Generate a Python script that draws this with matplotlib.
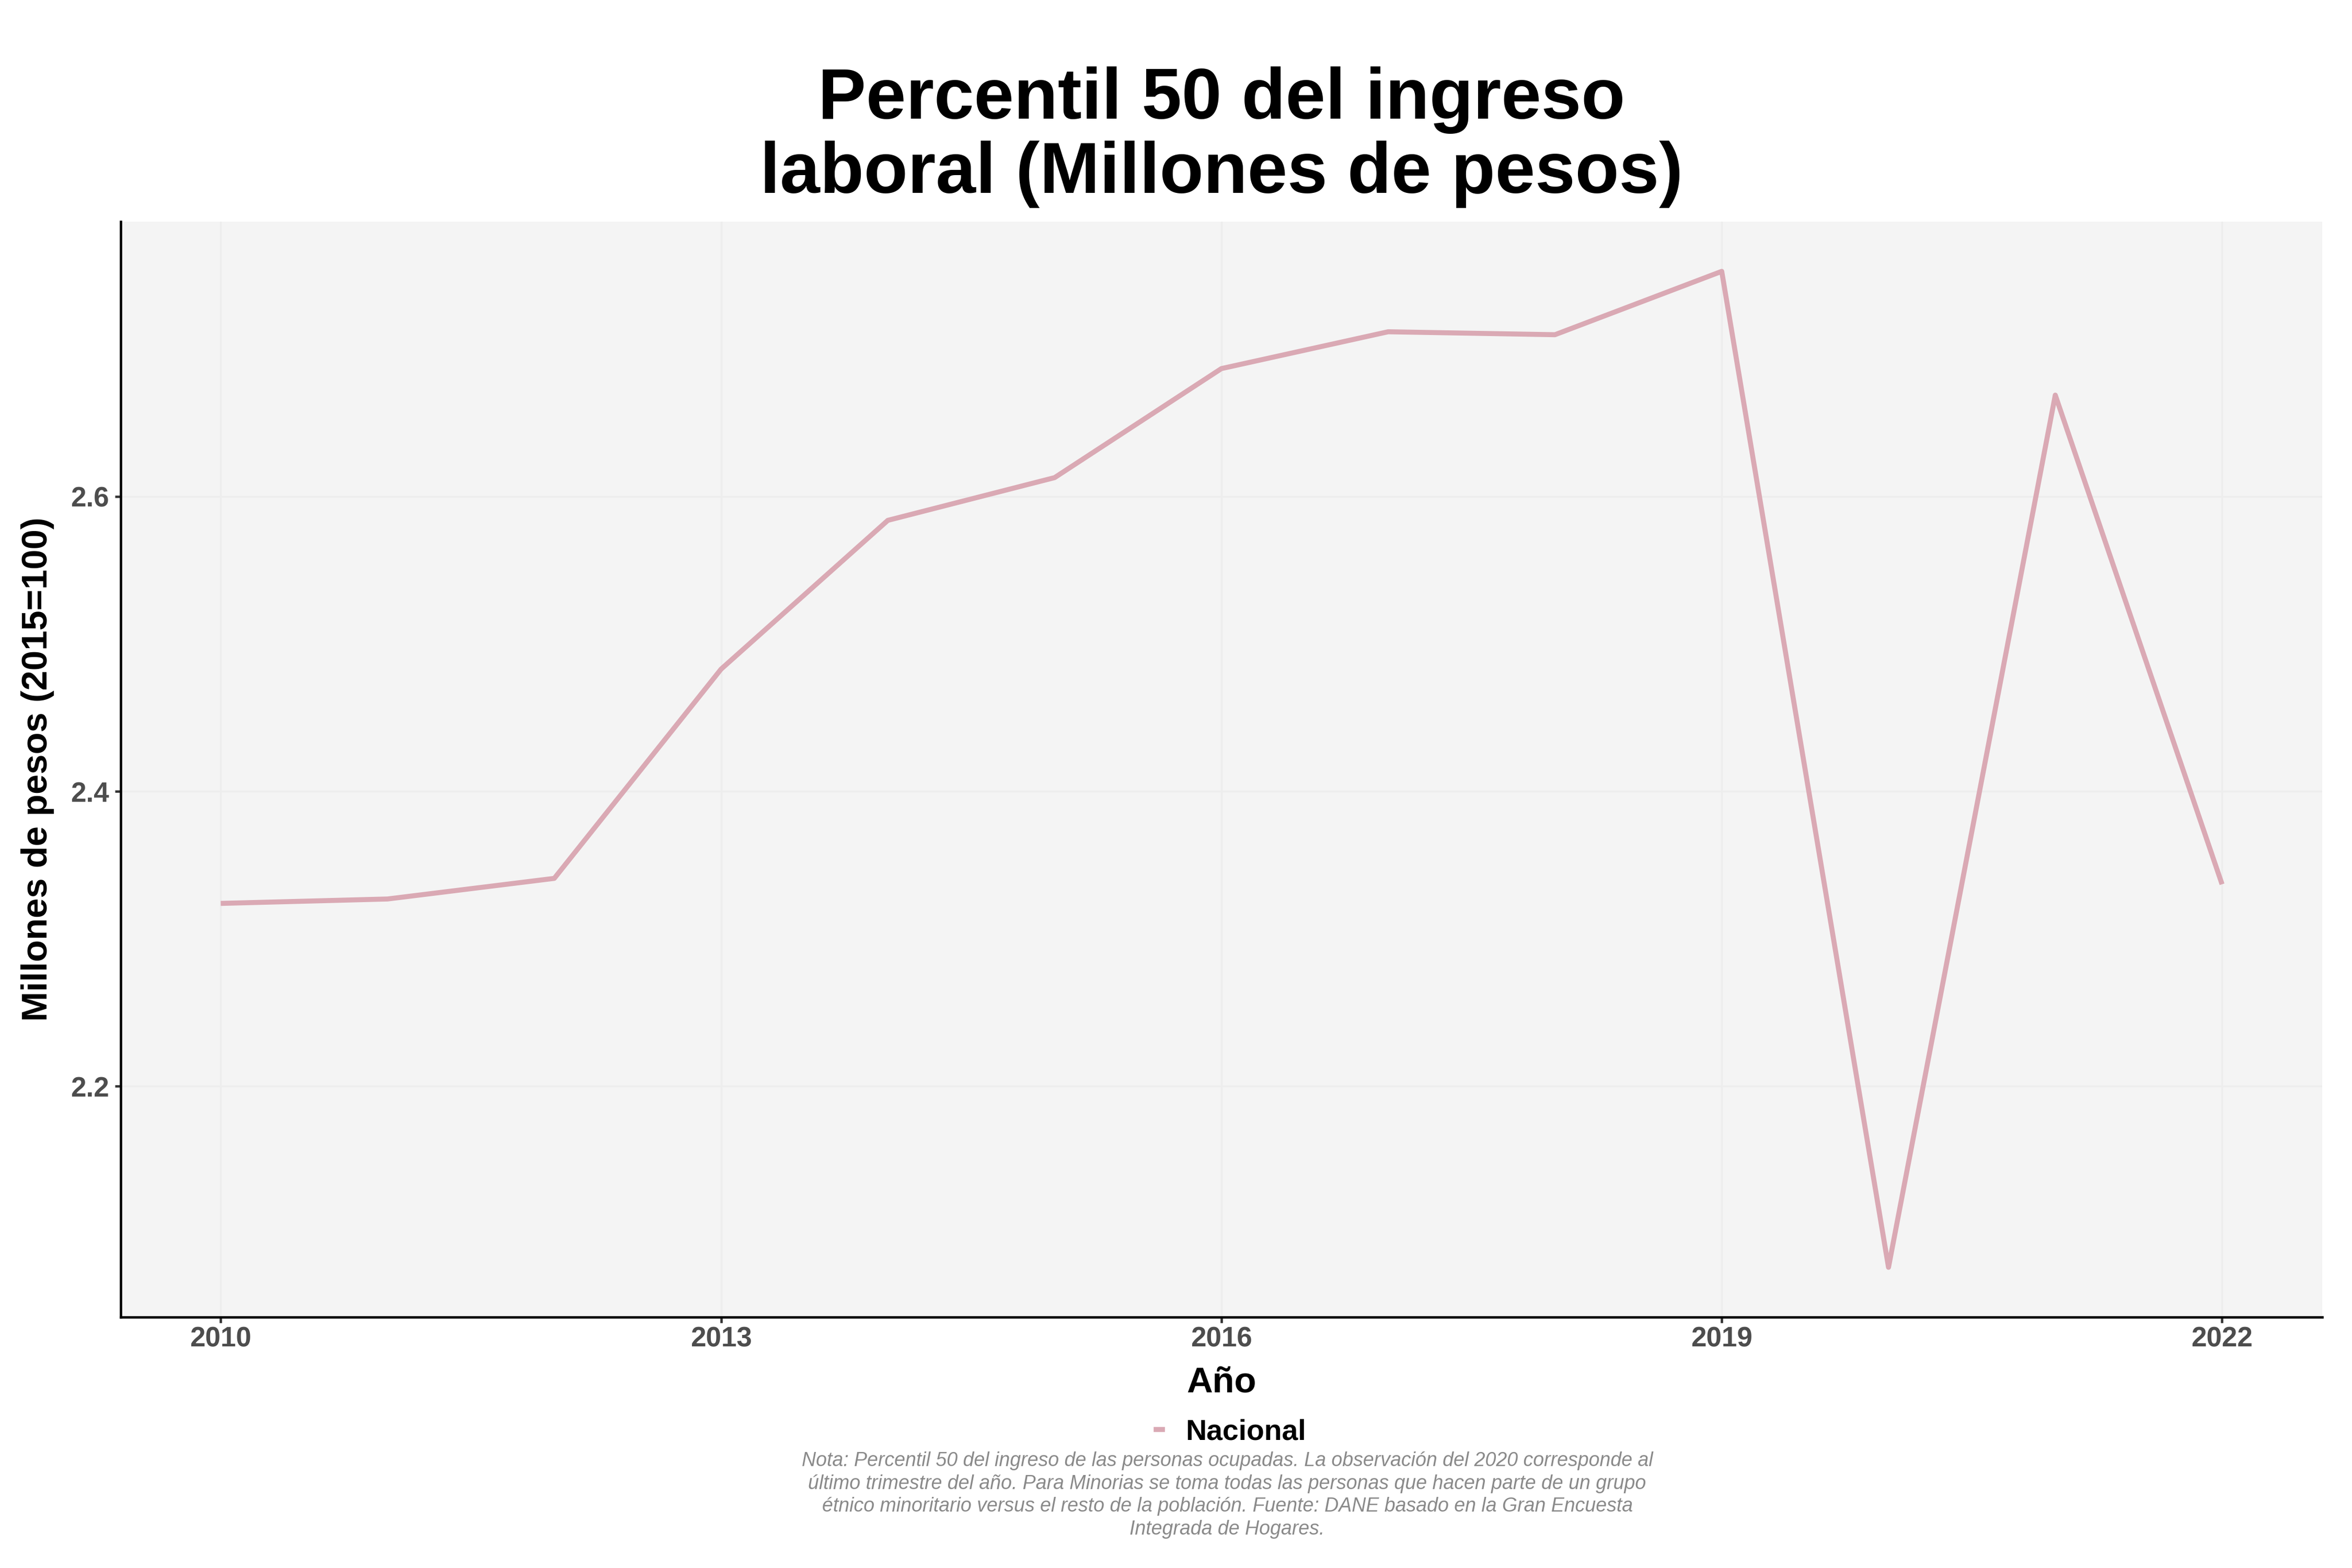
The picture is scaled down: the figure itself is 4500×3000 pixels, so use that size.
import matplotlib
matplotlib.use('Agg')
import matplotlib.pyplot as plt
from matplotlib.lines import Line2D

plt.rcParams['font.family'] = ['Liberation Sans', 'DejaVu Sans']

# data
years = [2010, 2011, 2012, 2013, 2014, 2015, 2016, 2017, 2018, 2019, 2020, 2021, 2022]
values = [2.324, 2.327, 2.341, 2.483, 2.584, 2.613, 2.687, 2.712, 2.710, 2.753, 2.077, 2.669, 2.337]
series_name = 'Nacional'

x_ticks = [2010, 2013, 2016, 2019, 2022]
y_ticks = [2.2, 2.4, 2.6]

title = 'Percentil 50 del ingreso\nlaboral (Millones de pesos)'
x_label = 'Año'
y_label = 'Millones de pesos (2015=100)'
caption = ('Nota: Percentil 50 del ingreso de las personas ocupadas. La observación del 2020 corresponde al\n'
           'último trimestre del año. Para Minorias se toma todas las personas que hacen parte de un grupo\n'
           'étnico minoritario versus el resto de la población. Fuente: DANE basado en la Gran Encuesta\n'
           'Integrada de Hogares.')

line_color = '#DAA9B4'


def main():
    fig = plt.figure(figsize=(15, 10), dpi=300)
    ax = fig.add_axes([0.0513, 0.16, 0.936, 0.6987])

    #panel look
    ax.set_facecolor('#F4F4F4')
    ax.grid(True, color='#EDEDED', linewidth=0.8)
    ax.set_axisbelow(True)
    for side in ['top', 'right']:
        ax.spines[side].set_visible(False)
    for side in ['left', 'bottom']:
        ax.spines[side].set_color('black')
        ax.spines[side].set_linewidth(1.1)

    #the line
    ax.plot(years, values, color=line_color, linewidth=2.3,
            solid_joinstyle='round', solid_capstyle='butt', label=series_name)

    #limits like ggplot (5% expansion)
    xpad = 0.05 * (max(years) - min(years))
    ypad = 0.05 * (max(values) - min(values))
    ax.set_xlim(min(years) - xpad, max(years) + xpad)
    ax.set_ylim(min(values) - ypad, max(values) + ypad)

    #ticks
    ax.set_xticks(x_ticks)
    ax.set_xticklabels([str(t) for t in x_ticks])
    ax.set_yticks(y_ticks)
    ax.set_yticklabels([f'{t:.1f}' for t in y_ticks])
    ax.tick_params(axis='both', length=2.75, width=1.1, color='#333333',
                   labelcolor='#4D4D4D', labelsize=12.7)
    ax.tick_params(axis='x', pad=1.5)
    ax.tick_params(axis='y', pad=2.5)
    for lab in ax.get_xticklabels() + ax.get_yticklabels():
        lab.set_fontweight('bold')

    #axis titles
    ax.set_xlabel(x_label, fontsize=16.5, fontweight='bold', color='black')
    ax.xaxis.set_label_coords(0.5, -0.060)
    ax.xaxis.label.set_verticalalignment('center')
    ax.set_ylabel(y_label, fontsize=16.5, fontweight='bold', color='black')
    ax.yaxis.set_label_coords(-0.0377, 0.5)
    ax.yaxis.label.set_verticalalignment('center')

    #title (baseline of the last line)
    fig.text(0.5193, 0.877, title, ha='center', va='baseline', fontsize=33,
             fontweight='bold', color='black', multialignment='center', linespacing=1.13)

    #legend
    handle = Line2D([0], [0], color=line_color, linewidth=2.3)
    ax.legend([handle], [series_name], loc='center', bbox_to_anchor=(0.5235, 0.0865),
              bbox_transform=fig.transFigure, frameon=False, handlelength=0.22,
              handletextpad=0.8, prop={'weight': 'bold', 'size': 13.3})

    #caption
    fig.text(0.5218, 0.0465, caption, ha='center', va='center', fontsize=9.0,
             style='italic', color='#8A8A8A', multialignment='center', linespacing=1.27)

    fig.savefig('out.png', dpi=300)


if __name__ == '__main__':
    main()
